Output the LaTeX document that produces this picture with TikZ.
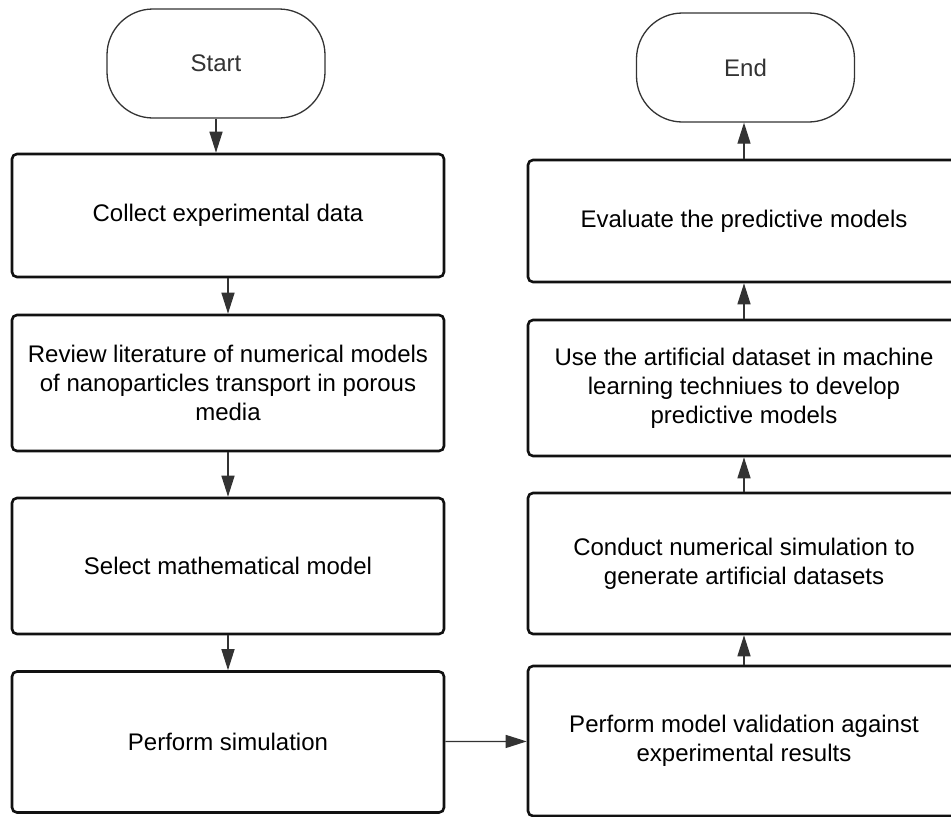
\documentclass[tikz,border=0pt]{standalone}
\usepackage{fontspec}
\setmainfont{Liberation Sans}
\usepackage{tikz}
\usetikzlibrary{positioning, arrows.meta}
\definecolor{LineGray}{HTML}{333333}
\definecolor{BoxBlack}{HTML}{111111}

\begin{document}
\begin{tikzpicture}[x=1pt, y=-1pt,
    procbox/.style={draw=BoxBlack, line width=2.6pt, rounded corners=5pt, fill=white,
      minimum width=432pt, align=center, inner sep=0pt,
      font=\fontsize{24}{29}\selectfont},
    termbox/.style={draw=LineGray, line width=1.3pt, rounded corners=46pt, fill=white,
      minimum width=218pt, minimum height=109pt, inner sep=0pt, text=LineGray,
      font=\fontsize{24}{29}\selectfont},
    flowarrow/.style={draw=LineGray, line width=1.3pt,
      -{Triangle[length=21pt, width=13pt]}}]
  \clip (0,0) rectangle (951,817);
  \fill[white] (0,0) rectangle (951,817);
  % left column, going down
  \node[termbox] (start) at (216,63.5) {Start};
  \node[procbox, minimum height=123pt] (collect) at (228,215.5) {Collect experimental data};
  \node[procbox, minimum height=136pt] (review) at (228,383) {Review literature of numerical models\\of nanoparticles transport in porous\\media};
  \node[procbox, minimum height=136pt] (select) at (228,566) {Select mathematical model};
  \node[procbox, minimum height=141pt] (simul) at (228,742) {Perform simulation};
  % right column, going up
  \node[procbox, minimum height=150pt] (valid) at (744,741) {Perform model validation against\\experimental results};
  \node[procbox, minimum height=141pt] (conduct) at (744,563.5) {Conduct numerical simulation to\\generate artificial datasets};
  \node[procbox, minimum height=136pt] (learn) at (744,388) {Use the artificial dataset in machine\\learning techniues to develop\\predictive models};
  \node[procbox, minimum height=122pt] (evaluate) at (744,221) {Evaluate the predictive models};
  \node[termbox] (end) at (745.5,67.5) {End};
  % connectors
  \draw[flowarrow] (start) -- (start.south |- collect.north);
  \draw[flowarrow] (collect) -- (review);
  \draw[flowarrow] (review) -- (select);
  \draw[flowarrow] (select) -- (simul);
  \draw[flowarrow] (simul) -- (valid);
  \draw[flowarrow] (valid) -- (conduct);
  \draw[flowarrow] (conduct) -- (learn);
  \draw[flowarrow] (learn) -- (evaluate);
  \draw[flowarrow] (evaluate) -- (evaluate.north |- end.south);
\end{tikzpicture}
\end{document}
